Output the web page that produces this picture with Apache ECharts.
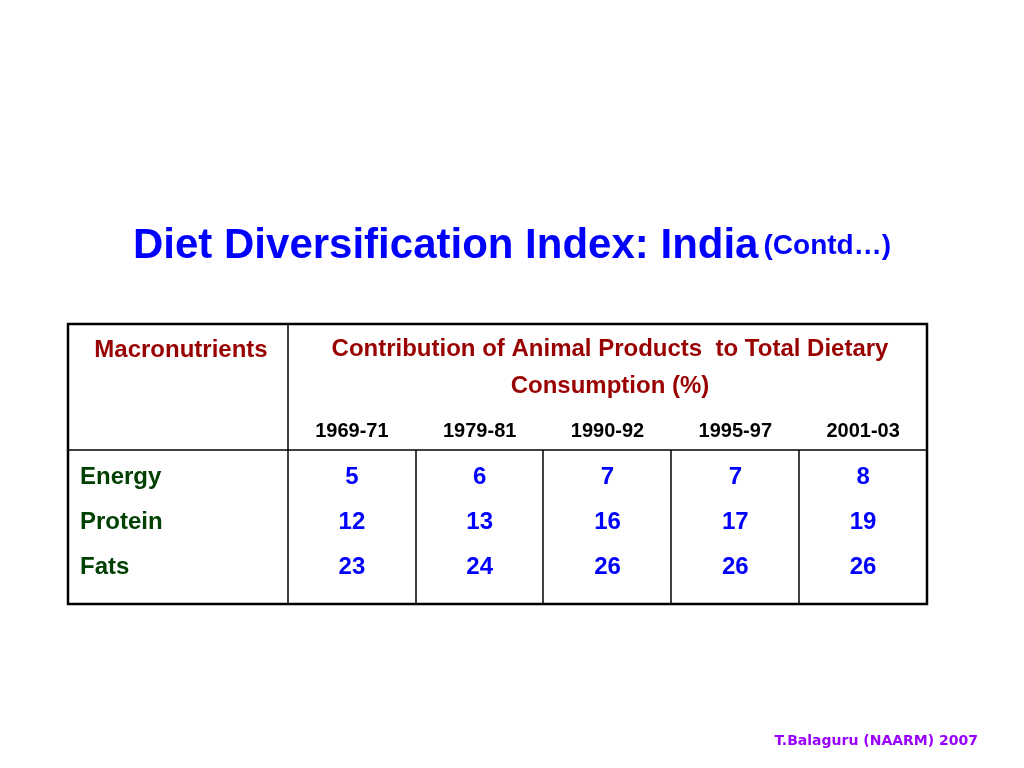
<!DOCTYPE html>
<html>
<head>
<meta charset="utf-8">
<script src="https://cdn.jsdelivr.net/npm/echarts@6/dist/echarts.min.js"></script>
<style>html,body{margin:0;background:#fff}#chart{width:1024px;height:768px}</style>
</head>
<body>
<div id="chart"></div>
<script>
var periods = ['1969-71', '1979-81', '1990-92', '1995-97', '2001-03'];
var nutrients = ['Energy', 'Protein', 'Fats'];
var energy = [5, 6, 7, 7, 8];
var protein = [12, 13, 16, 17, 19];
var fats = [23, 24, 26, 26, 26];

var font = "'Liberation Sans Narrow', 'Arial Narrow', 'Liberation Sans', sans-serif";
var rows = [energy, protein, fats];
var cells = [];
for (var r = 0; r < rows.length; r++) {
    for (var c = 0; c < rows[r].length; c++) {
        cells.push([periods[c], nutrients[r], rows[r][c]]);
    }
}

var myChart = echarts.init(document.getElementById('chart'));
var option = {
    backgroundColor: '#fff',
    animation: false,
    title: {
        text: '{a|Diet Diversification Index: India} {b|(Contd…)}',
        left: 'center',
        top: 220,
        textStyle: {
            rich: {
                a: {fontFamily: font, fontWeight: 'bold', fontSize: 42, color: '#0000ff'},
                b: {fontFamily: font, fontWeight: 'bold', fontSize: 28, color: '#0000ff'}
            }
        }
    },
    grid: {left: 288, top: 455, width: 639, height: 135},
    xAxis: {
        type: 'category',
        data: periods,
        position: 'top',
        axisLine: {show: false},
        axisTick: {show: false},
        splitLine: {show: false},
        axisLabel: {margin: 14, fontFamily: font, fontSize: 20, fontWeight: 'bold', color: '#000'}
    },
    yAxis: {
        type: 'category',
        data: nutrients,
        inverse: true,
        axisLine: {show: false},
        axisTick: {show: false},
        axisLabel: {
            margin: 208, align: 'left',
            fontFamily: font, fontSize: 24, fontWeight: 'bold', color: '#004000'
        }
    },
    series: [{
        type: 'scatter',
        symbolSize: 0,
        itemStyle: {opacity: 1},
        data: cells,
        label: {
            show: true,
            position: 'inside',
            formatter: function (p) { return p.value[2]; },
            fontFamily: font, fontSize: 24, fontWeight: 'bold', color: '#0000ff'
        }
    }],
    graphic: [
        {type: 'rect', shape: {x: 68, y: 324, width: 859, height: 280}, style: {fill: 'none', stroke: '#000', lineWidth: 2.5}},
        {type: 'line', shape: {x1: 68, y1: 450, x2: 927, y2: 450}, style: {stroke: '#000', lineWidth: 1.5}},
        {type: 'line', shape: {x1: 288, y1: 324, x2: 288, y2: 604}, style: {stroke: '#000', lineWidth: 1.5}},
        {type: 'line', shape: {x1: 416, y1: 450, x2: 416, y2: 604}, style: {stroke: '#000', lineWidth: 1.5}},
        {type: 'line', shape: {x1: 543, y1: 450, x2: 543, y2: 604}, style: {stroke: '#000', lineWidth: 1.5}},
        {type: 'line', shape: {x1: 671, y1: 450, x2: 671, y2: 604}, style: {stroke: '#000', lineWidth: 1.5}},
        {type: 'line', shape: {x1: 799, y1: 450, x2: 799, y2: 604}, style: {stroke: '#000', lineWidth: 1.5}},
        {type: 'text', x: 181, y: 350, style: {text: 'Macronutrients', align: 'center', verticalAlign: 'middle', fontFamily: font, fontSize: 24, fontWeight: 'bold', fill: '#990000'}},
        {type: 'text', x: 610, y: 368, style: {text: 'Contribution of Animal Products  to Total Dietary\nConsumption (%)', align: 'center', verticalAlign: 'middle', lineHeight: 37, fontFamily: font, fontSize: 24, fontWeight: 'bold', fill: '#990000'}},
        {type: 'text', x: 978, y: 741, style: {text: 'T.Balaguru (NAARM) 2007', align: 'right', verticalAlign: 'middle', fontFamily: "'DejaVu Sans', sans-serif", fontSize: 14, fontWeight: 'bold', fill: '#9900ff'}}
    ]
};
myChart.setOption(option);
</script>
</body>
</html>
